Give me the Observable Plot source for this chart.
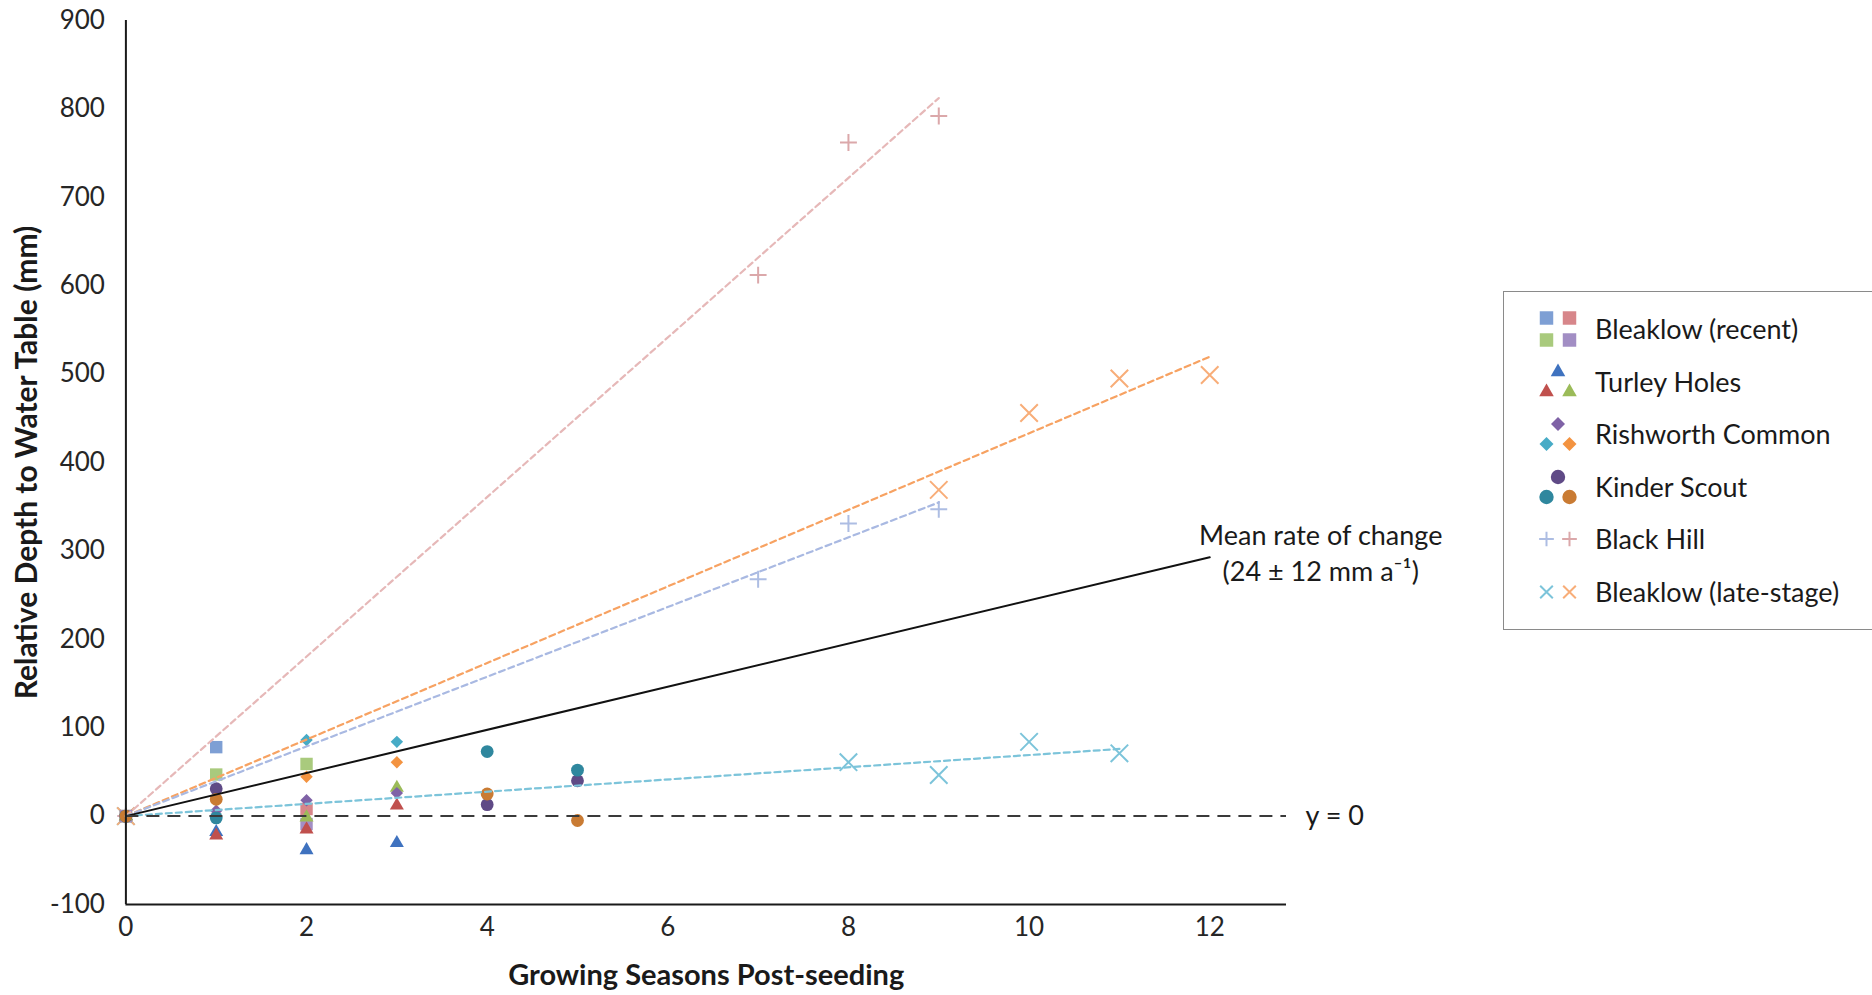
<!DOCTYPE html>
<html>
<head>
<meta charset="utf-8">
<script src="https://cdn.jsdelivr.net/npm/d3@7"></script>
<script src="https://cdn.jsdelivr.net/npm/@observablehq/plot@0.6"></script>
<style>
  html, body { margin: 0; padding: 0; background: #fff; }
  #wrap { position: relative; width: 1872px; height: 995px; overflow: hidden; font-family: Lato, "Open Sans", sans-serif; }
  #chart { position: absolute; left: 0; top: 0; }
  #legend { position: absolute; left: 1503px; top: 291px; width: 400px; height: 339px; border: 1.5px solid #8a8a8a; box-sizing: border-box; background: #fff; }
  .lrow { position: absolute; left: 0; height: 52px; width: 400px; }
  .lrow svg { position: absolute; left: 24px; top: 0; }
  .lrow span { position: absolute; left: 91px; top: 0; line-height: 52px; font-size: 27px; color: #1a1a1a; white-space: nowrap; }
</style>
</head>
<body>
<div id="wrap">
  <div id="chart"></div>
  <div id="legend"></div>
</div>
<script>
// ---------------- DATA ----------------
const xTicks = [0, 2, 4, 6, 8, 10, 12];
const yTicks = [-100, 0, 100, 200, 300, 400, 500, 600, 700, 800, 900];
const xTitle = "Growing Seasons Post-seeding";
const yTitle = "Relative Depth to Water Table (mm)";
const siteNames = ["Bleaklow (recent)", "Turley Holes", "Rishworth Common", "Kinder Scout", "Black Hill", "Bleaklow (late-stage)"];

// Bleaklow (recent): squares
const bleaklowRecentSeasons = [0, 1, 2];
const bleaklowRecentA = [0, 78, null];
const bleaklowRecentB = [0, null, 8];
const bleaklowRecentC = [0, 47, 59];
const bleaklowRecentD = [0, null, -9];
const squareColors = ["#7e9fd4", "#d7868a", "#a9ca7d", "#a28ec4"];

// Turley Holes: triangles
const turleySeasons = [0, 1, 2, 3];
const turleyA = [0, -18, -38.5, -30.5];
const turleyB = [0, -22, -15, 12];
const turleyC = [0, null, -1.5, 32];
const triangleColors = ["#3f72bf", "#c0504d", "#9bbb59"];

// Rishworth Common: diamonds
const rishworthSeasons = [0, 1, 2, 3];
const rishworthA = [0, 6, 18, 26];
const rishworthB = [0, null, 86, 84];
const rishworthC = [0, null, 44.5, 61];
const diamondColors = ["#7f62a6", "#47abc6", "#f39340"];

// Kinder Scout: circles
const kinderSeasons = [0, 1, 4, 5];
const kinderA = [0, 31, 13, 40];
const kinderB = [0, -2, 73, 52];
const kinderC = [0, 19, 25, -5];
const circleColors = ["#5f4a86", "#2f879e", "#c97b33"];

// Black Hill: plus
const blackHillSeasons = [0, 7, 8, 9];
const blackHillA = [0, 268, 331, 347];
const blackHillB = [0, 612, 762, 792];
const plusColors = ["#adbde3", "#dba8aa"];
const plusTrendColors = ["#a9b9e2", "#e6b8b8"];

// Bleaklow (late-stage): times
const lateSeasonsA = [0, 8, 9, 10, 11];
const lateA = [0, 61, 46.5, 84, 71];
const lateSeasonsB = [0, 9, 10, 11, 12];
const lateB = [0, 369, 456, 495, 499];
const timesColors = ["#7cc4da", "#f8ad78"];
const timesTrendColors = ["#7cc4da", "#f7a262"];

// Mean rate of change (mm per growing season)
const meanRate = 24.4;
const meanRateEnd = 12;
const meanLabel = "Mean rate of change\n(24 ± 12 mm a\u207B\u00B9)";
const zeroLabel = "y = 0";
const xMax = 12.85;

// ---------------- BUILD ----------------
const rows = (xs, ys) => xs.map((x, i) => ({x, y: ys[i]})).filter(d => d.y != null);

const groups = [
  {symbol: "plus", stroke: true, r: 5.5, series: [[blackHillSeasons, blackHillA], [blackHillSeasons, blackHillB]], colors: plusColors},
  {symbol: "times", stroke: true, r: 8, series: [[lateSeasonsA, lateA], [lateSeasonsB, lateB]], colors: timesColors},
  {symbol: "square", r: 7, series: [[bleaklowRecentSeasons, bleaklowRecentA], [bleaklowRecentSeasons, bleaklowRecentB], [bleaklowRecentSeasons, bleaklowRecentC], [bleaklowRecentSeasons, bleaklowRecentD]], colors: squareColors},
  {symbol: "triangle", r: 5.2, series: [[turleySeasons, turleyA], [turleySeasons, turleyB], [turleySeasons, turleyC]], colors: triangleColors},
  {symbol: "diamond2", r: 5.6, series: [[rishworthSeasons, rishworthA], [rishworthSeasons, rishworthB], [rishworthSeasons, rishworthC]], colors: diamondColors},
  {symbol: "circle", r: 6.4, series: [[kinderSeasons, kinderA], [kinderSeasons, kinderB], [kinderSeasons, kinderC]], colors: circleColors}
];

const dotMarks = [];
for (const g of groups) {
  g.series.forEach(([xs, ys], i) => {
    const data = rows(xs, ys);
    dotMarks.push(g.stroke
      ? Plot.dot(data, {x: "x", y: "y", symbol: g.symbol, r: g.r, stroke: g.colors[i], strokeWidth: 2, fill: "none"})
      : Plot.dot(data, {x: "x", y: "y", symbol: g.symbol, r: g.r, fill: g.colors[i], stroke: "none"}));
  });
}

// Trendlines forced through origin (least squares slope = Σxy / Σx²)
function trend(xs, ys) {
  const d = rows(xs, ys);
  const sxy = d3.sum(d, p => p.x * p.y), sxx = d3.sum(d, p => p.x * p.x);
  const m = sxy / sxx, x0 = d3.min(d, p => p.x), x1 = d3.max(d, p => p.x);
  return [{x: x0, y: m * x0}, {x: x1, y: m * x1}];
}
const dash = {strokeWidth: 2.2, strokeDasharray: "6,4"};
const trendMarks = [
  Plot.line(trend(blackHillSeasons, blackHillB), {x: "x", y: "y", stroke: plusTrendColors[1], ...dash}),
  Plot.line(trend(lateSeasonsB, lateB), {x: "x", y: "y", stroke: timesTrendColors[1], ...dash}),
  Plot.line(trend(blackHillSeasons, blackHillA), {x: "x", y: "y", stroke: plusTrendColors[0], ...dash}),
  Plot.line(trend(lateSeasonsA, lateA), {x: "x", y: "y", stroke: timesTrendColors[0], ...dash})
];

const meanLine = [{x: 0, y: 0}, {x: meanRateEnd, y: meanRate * meanRateEnd}];

const chart = Plot.plot({
  width: 1872,
  height: 995,
  marginLeft: 125.4,
  marginRight: 586,
  marginTop: 20,
  marginBottom: 91,
  style: {fontFamily: "Lato, 'Open Sans', sans-serif", fontSize: "26px", color: "#1a1a1a", background: "#fff", overflow: "visible"},
  x: {domain: [0, xMax]},
  y: {domain: [-100, 900]},
  marks: [
    Plot.axisX({ticks: xTicks, tickSize: 0, tickPadding: 13, label: null, fontSize: 26, fill: "#262626"}),
    Plot.axisY({ticks: yTicks, tickSize: 0, tickPadding: 21, label: null, fontSize: 26, fill: "#262626",
      tickFormat: d => (d < 0 ? "-" + Math.abs(d) : String(d))}),
    ...dotMarks,
    ...trendMarks,
    Plot.line(meanLine, {x: "x", y: "y", stroke: "#111", strokeWidth: 2}),
    Plot.ruleY([0], {stroke: "#3a3a3a", strokeWidth: 2, strokeDasharray: "13,8"}),
    Plot.ruleX([0], {stroke: "#1a1a1a", strokeWidth: 2}),
    Plot.ruleY([-100], {stroke: "#1a1a1a", strokeWidth: 2}),
    Plot.text([meanLine[1]], {x: "x", y: "y", text: () => meanLabel, dx: 111, dy: -6, lineHeight: 1.35, fontSize: 27, fill: "#1a1a1a", textAnchor: "middle", lineAnchor: "middle"}),
    Plot.text([0], {y: d => d, text: () => zeroLabel, frameAnchor: "right", dx: 19, textAnchor: "start", fontSize: 27, fill: "#1a1a1a"}),
    Plot.text([xTitle], {text: d => d, frameAnchor: "bottom", dy: 80, fontSize: 29, fontWeight: "bold", fill: "#1a1a1a"}),
    Plot.text([yTitle], {text: d => d, frameAnchor: "left", rotate: -90, textAnchor: "middle", dx: -99, fontSize: 30, fontWeight: "bold", fill: "#1a1a1a"})
  ]
});
document.getElementById("chart").appendChild(chart);

// ---------------- LEGEND ----------------
const legend = d3.select("#legend");
const layouts = {
  grid4: [[-11.5, -11], [11.5, -11], [-11.5, 11], [11.5, 11]],
  tri3: [[0, -10], [-11.5, 10], [11.5, 10]],
  pair2: [[-11.5, 0], [11.5, 0]]
};
const legendDefs = [
  {sym: d3.symbolSquare, r: 7.6, colors: squareColors, layout: "grid4"},
  {sym: d3.symbolTriangle, r: 5.4, colors: triangleColors, layout: "tri3"},
  {sym: d3.symbolDiamond2, r: 6.3, colors: diamondColors, layout: "tri3"},
  {sym: d3.symbolCircle, r: 7.2, colors: circleColors, layout: "tri3"},
  {sym: d3.symbolPlus, r: 4.8, colors: plusColors, layout: "pair2", stroke: true},
  {sym: d3.symbolTimes, r: 5.8, colors: timesColors, layout: "pair2", stroke: true}
];
siteNames.forEach((name, i) => {
  const def = legendDefs[i];
  const row = legend.append("div").attr("class", "lrow").style("top", (11 + i * 52.6) + "px");
  const svg = row.append("svg").attr("width", 60).attr("height", 52);
  def.colors.forEach((c, j) => {
    const [dx, dy] = layouts[def.layout][j];
    const path = svg.append("path")
      .attr("d", d3.symbol(def.sym, Math.PI * def.r * def.r)())
      .attr("transform", `translate(${30 + dx},${26 + dy})`);
    if (def.stroke) path.attr("fill", "none").attr("stroke", c).attr("stroke-width", 2);
    else path.attr("fill", c);
  });
  row.append("span").text(name);
});
</script>
</body>
</html>
